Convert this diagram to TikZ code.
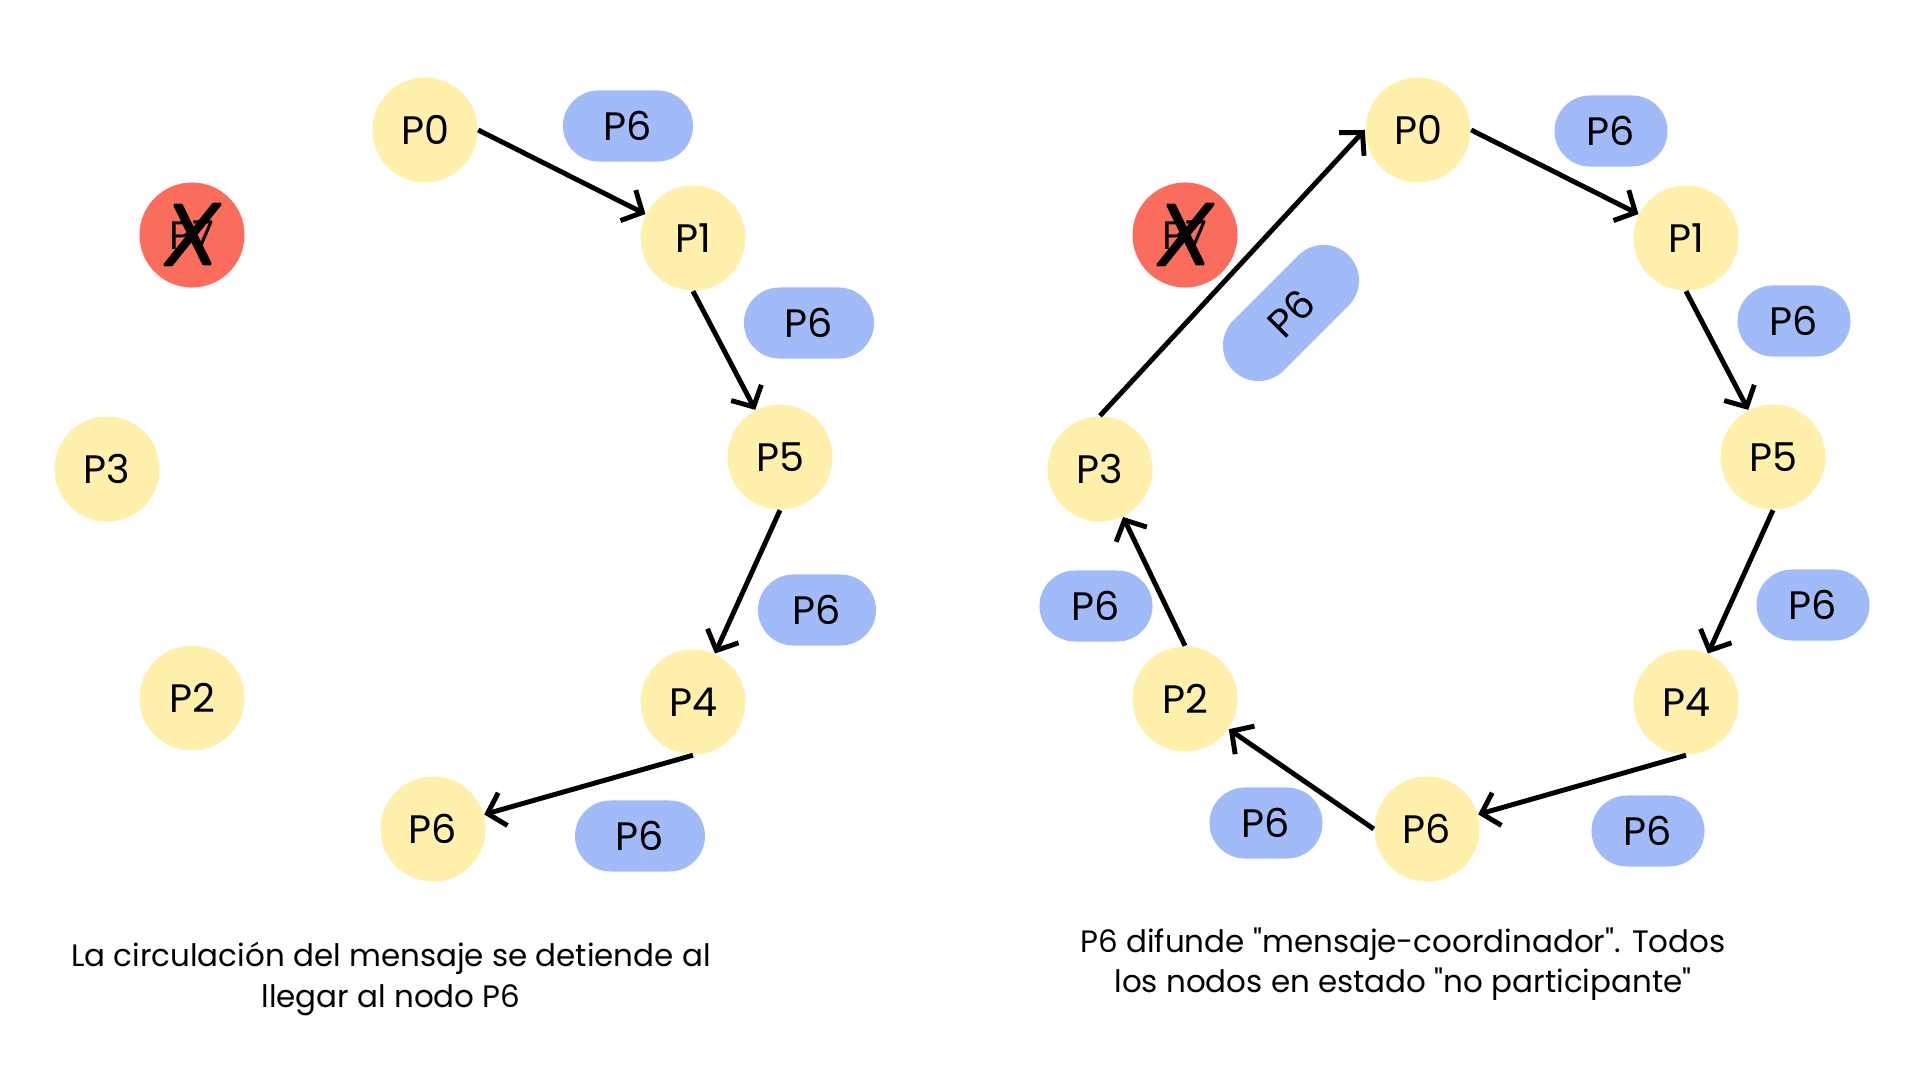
\documentclass[tikz,border=0pt]{standalone}
\usepackage{fontspec}
\setmainfont{Poppins}
\usepackage{tikz}
\usetikzlibrary{arrows.meta,positioning,shapes}
\definecolor{procyellow}{RGB}{255,240,172}
\definecolor{deadred}{RGB}{250,108,92}
\definecolor{msgblue}{RGB}{161,187,248}

\begin{document}
\begin{tikzpicture}[x=0.01cm,y=-0.01cm,
    proc/.style={circle,fill=procyellow,minimum size=1.05cm,inner sep=0pt,
      font=\fontsize{11.3}{13}\selectfont},
    dead/.style={proc,fill=deadred},
    msg/.style={rectangle,fill=msgblue,minimum height=0.71cm,minimum width=1.13cm,
      rounded corners=0.355cm,inner sep=0pt,font=\fontsize{11.3}{13}\selectfont},
    wmsg/.style={msg,minimum width=1.30cm},
    pass/.style={line width=1.4pt,-{Straight Barb[length=1.6mm,width=3.4mm]}},
    scratch/.style={line width=1pt,line cap=round},
    caption/.style={align=center,font=\fontsize{8.8}{11.4}\selectfont}]
  \useasboundingbox (0,0) rectangle (1920,1080);

  % left ring: the message stops at P6
  \node[proc] (L0) at (425,130) {P0};
  \node[dead] (L7) at (192,235) {P7};
  \node[proc] (L1) at (693,238) {P1};
  \node[proc] (L3) at (107,469) {P3};
  \node[proc] (L5) at (780,457) {P5};
  \node[proc] (L2) at (192,698) {P2};
  \node[proc] (L4) at (693,702) {P4};
  \node[proc] (L6) at (433,829) {P6};

  \node[wmsg] (LM1) at (628,126) {P6};
  \node[wmsg] (LM2) at (809,323) {P6};
  \node[msg,minimum width=1.18cm] (LM3) at (817,610) {P6};
  \node[wmsg] (LM4) at (640,836) {P6};

  \draw[pass] (L0.east) -- (L1);
  \draw[pass] (L1.south) -- (L5);
  \draw[pass] (L5.south) -- (L4);
  \draw[pass] (L4.south) -- (L6);

  \foreach \d in {-3,-1,1,3} {
    \draw[scratch] ([shift={(-14+\d,-30)}]L7.center) -- ([shift={(15+\d,29)}]L7.center);
    \draw[scratch] ([shift={(25+\d,-31)}]L7.center) -- ([shift={(-24+\d,30)}]L7.center);
  }

  \node[caption] (LT) at (391,979) {La circulación del mensaje se detiende al\\llegar al nodo P6};

  % right ring: P6 announces itself as coordinator
  \node[proc] (R0) at (1418,130) {P0};
  \node[dead] (R7) at (1185,235) {P7};
  \node[proc] (R1) at (1686,238) {P1};
  \node[proc] (R3) at (1100,469) {P3};
  \node[proc] (R5) at (1773,457) {P5};
  \node[proc] (R2) at (1185,699) {P2};
  \node[proc] (R4) at (1686,702) {P4};
  \node[proc] (R6) at (1427,829) {P6};

  \node[msg] (RM1) at (1611,131) {P6};
  \node[msg] (RM2) at (1794,321) {P6};
  \node[msg] (RM3) at (1813,605) {P6};
  \node[msg] (RM4) at (1648,831) {P6};
  \node[msg] (RM5) at (1266,823) {P6};
  \node[msg] (RM6) at (1096,606) {P6};
  \node[msg,minimum width=1.63cm,rotate=45] (RM7) at (1291,313) {P6};

  \draw[pass] (R0.east) -- (R1);
  \draw[pass] (R1.south) -- (R5);
  \draw[pass] (R5.south) -- (R4);
  \draw[pass] (R4.south) -- (R6);
  \draw[pass] (R6.west) -- (R2);
  \draw[pass] (R2.north) -- (R3);
  \draw[pass] (R3.north) -- (R0.west);

  \foreach \d in {-3,-1,1,3} {
    \draw[scratch] ([shift={(-14+\d,-30)}]R7.center) -- ([shift={(15+\d,29)}]R7.center);
    \draw[scratch] ([shift={(25+\d,-31)}]R7.center) -- ([shift={(-24+\d,30)}]R7.center);
  }

  \node[caption] (RT) at (1403,964) {P6 difunde \textquotedbl mensaje-coordinador\textquotedbl. Todos\\los nodos en estado \textquotedbl no participante\textquotedbl};
\end{tikzpicture}
\end{document}
